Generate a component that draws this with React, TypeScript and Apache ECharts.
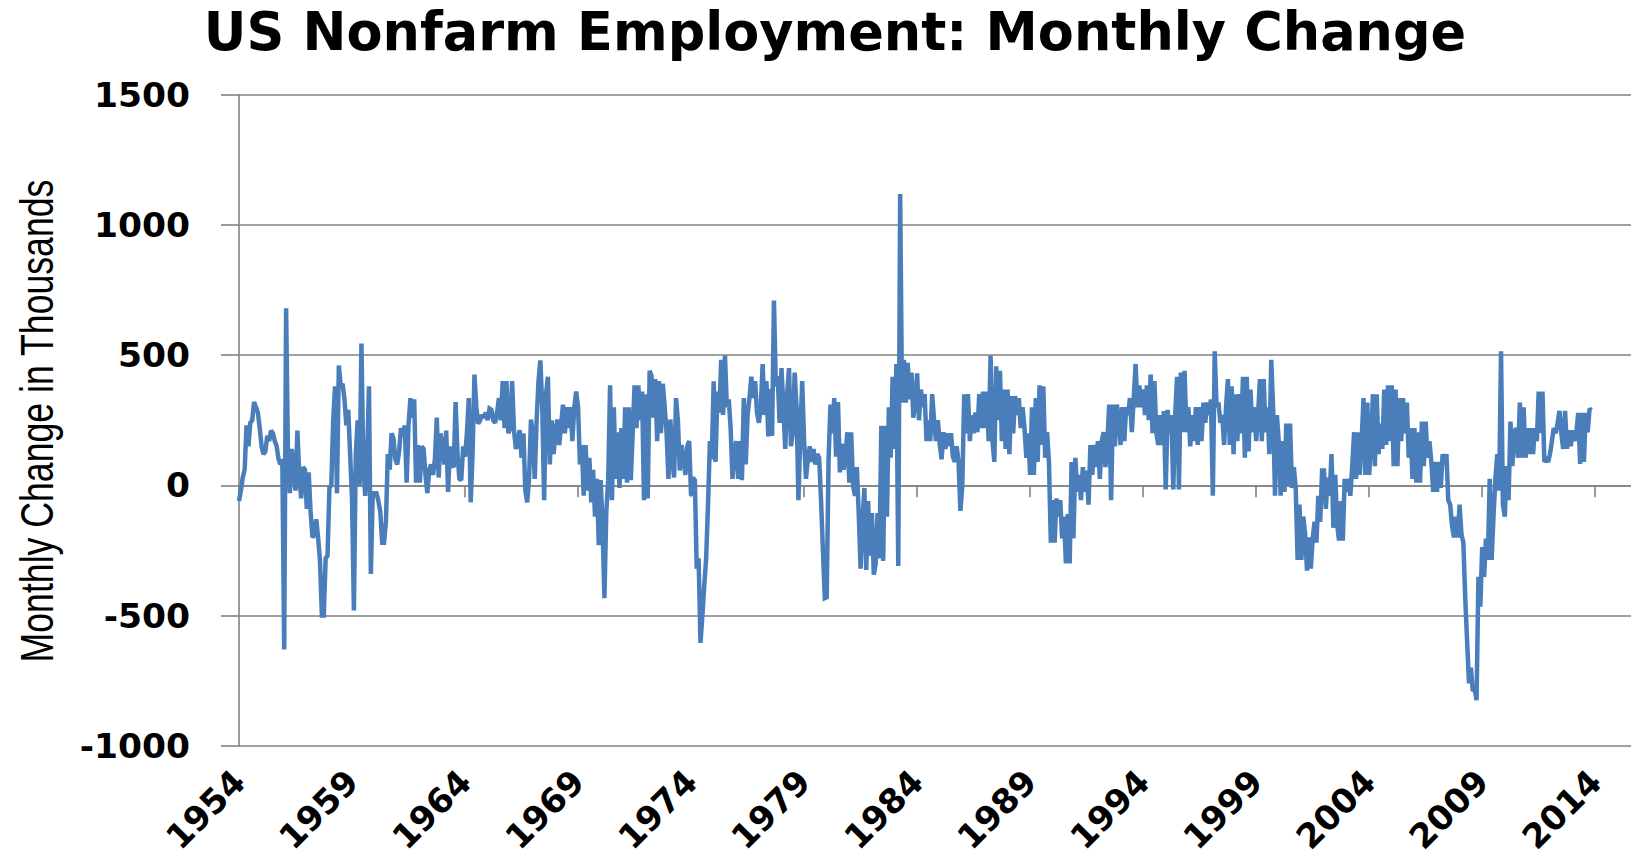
import React, { useEffect, useRef } from "react";
import * as echarts from "echarts";

// Tick labels shown every 60 months on the category axis
const tickLabels = ["1954", "1959", "1964", "1969", "1974", "1979", "1984", "1989", "1994", "1999", "2004", "2009", "2014"];

// Monthly change in nonfarm payrolls (thousands), six-year blocks
const block1954 = [-60, -20, 30, 60, 230, 150, 240, 250, 320, 300, 280, 220, 150, 120, 130, 190, 170, 210, 200, 170, 150, 100, 80, 100, -630, 680, 120, -30, 140, 60, -20, 210, 40, -50, 70, 60, -90, 50, -100, -200, -190, -130, -200, -290, -500, -500, -280, -270, -10, 0, 250, 380, -30, 460, 380, 390, 330, 230, 290, 120, -50, -480, 120, 250, 0, 545, 80, -40, 100, 380, -340, -30];
const block1960 = [-30, -30, -60, -100, -220, -220, -140, 120, 60, 200, 180, 100, 80, 130, 220, 190, 230, 10, 230, 335, 260, 330, 10, 155, 10, 150, 140, 40, -30, 60, 80, 40, 100, 260, 30, 200, 150, 80, 210, -25, 150, 80, 70, 320, 120, 25, 20, 150, 110, 200, 335, -65, 120, 425, 300, 237, 250, 270, 260, 280, 250, 295, 290, 250, 240, 280, 335, 250, 400, 220, 400, 200];
const block1966 = [220, 400, 210, 140, 170, 212, 106, 200, -20, -65, 25, 253, 200, 25, 250, 400, 480, 300, -57, 350, 417, 80, 250, 120, 200, 253, 155, 230, 310, 200, 300, 220, 300, 170, 300, 360, 300, 80, 155, -40, 155, -20, 106, -65, 60, -120, 25, -230, 20, -150, -433, -100, 20, 384, -57, 300, 25, 204, -10, 220, 25, 300, 10, 300, 20, 200, 384, 220, 384, 250, 360, -57];
const block1972 = [350, -50, 440, 420, 260, 408, 170, 400, 200, 390, 300, 200, 25, 253, 100, 30, 335, 250, 57, 155, 100, 40, 150, 170, -40, 30, 20, -320, -280, -605, -500, -384, -280, -74, 170, 100, 400, 90, 360, 280, 482, 270, 498, 300, 330, 220, 25, 130, 170, 25, 170, 20, 335, 80, 270, 335, 417, 335, 400, 280, 240, 300, 466, 270, 400, 188, 370, 190, 710, 380, 420, 240];
const block1978 = [450, 300, 140, 350, 450, 150, 200, 433, 300, -57, 200, 400, 170, 25, 100, 150, 90, 140, 80, 120, 106, -57, -250, -433, -430, 100, 310, 200, 335, 110, 320, 50, 160, 60, 120, 204, 10, 204, 0, -40, 70, -106, -320, -140, -10, -325, -60, -270, -106, -343, -300, -106, -280, 229, -290, 229, -120, 300, 106, 417, 140, 466, -310, 1119, 318, 482, 318, 470, 330, 433, 260, 318];
const block1984 = [430, 250, 368, 300, 350, 170, 250, 170, 350, 250, 170, 250, 160, 100, 204, 140, 200, 150, 200, 110, 90, 150, 90, -98, 0, 350, 200, 350, 170, 270, 200, 280, 204, 350, 220, 360, 220, 360, 170, 498, 170, 90, 457, 250, 440, 170, 368, 140, 368, 120, 343, 200, 343, 270, 335, 220, 300, 220, 106, 200, 40, 300, 40, 335, 90, 384, 155, 380, 106, 204, 90, -220];
const block1990 = [-57, -220, -50, -120, -57, -204, -120, -300, -110, -300, 90, -204, 106, -25, 40, -57, 70, -25, 57, -74, 155, 40, 155, 70, 170, 25, 170, 204, 70, 170, 310, -57, 310, 150, 310, 270, 155, 300, 170, 300, 270, 335, 204, 335, 466, 300, 384, 300, 368, 270, 384, 250, 425, 200, 400, 204, 155, 270, 155, 285, -16, 290, 200, 270, -16, 270, 417, -16, 433, 204, 440, 204];
const block1996 = [300, 150, 270, 170, 300, 155, 300, 170, 318, 240, 318, 270, 330, -40, 515, 300, 318, 240, 270, 155, 300, 408, 155, 380, 120, 350, 170, 350, 200, 417, 106, 417, 130, 368, 204, 300, 170, 270, 408, 170, 408, 204, 300, 120, 482, 300, -40, 270, 170, -40, 170, -25, 237, 0, 237, -10, 70, -10, -286, -74, -286, -120, -186, -327, -200, -320, -205, -140, -220, -40, -140, 57];
const block2002 = [57, -90, 30, -40, 120, -163, 40, -150, -212, -60, -212, 25, -25, 25, -40, 74, 204, 25, 204, 40, 170, 335, 40, 318, 40, 170, 350, 74, 350, 120, 237, 140, 368, 155, 384, 170, 384, 74, 368, 74, 335, 170, 335, 200, 318, 106, 220, 25, 220, 10, 204, 10, 245, 74, 245, 106, 170, 90, -25, 90, -25, 90, -10, 120, 80, 120, -57, -74, -155, -200, -120, -200];
const block2008 = [-74, -188, -220, -433, -600, -760, -700, -790, -780, -825, -351, -466, -237, -351, -204, -286, 25, -286, -120, 25, 120, -20, 515, -74, -120, 74, -57, 245, 74, 200, 220, 106, 318, 106, 300, 106, 220, 120, 220, 120, 220, 170, 360, 200, 360, 90, 100, 90, 120, 170, 220, 200, 237, 286, 200, 140, 286, 140, 212, 150, 212, 170, 204, 278, 82, 278, 90, 278, 204, 294, 288];

const monthlyChange: number[] = [
  ...block1954, ...block1960, ...block1966, ...block1972, ...block1978,
  ...block1984, ...block1990, ...block1996, ...block2002, ...block2008,
];

const CATEGORY_COUNT = 740;
const categories = Array.from({ length: CATEGORY_COUNT }, (_, i) => String(i));

const GRID_COLOR = "#828282";
const LINE_COLOR = "#4a7ebb";

export default function App() {
  const ref = useRef<HTMLDivElement>(null);
  useEffect(() => {
    if (!ref.current) return;
    const chart = echarts.init(ref.current, undefined, { renderer: "svg" });
    const axisLineStyle = { color: GRID_COLOR, width: 1.6 };
    chart.setOption({
      animation: false,
      backgroundColor: "#ffffff",
      title: {
        text: "US Nonfarm Employment: Monthly Change",
        left: 830,
        top: 0,
        textAlign: "center",
        textStyle: { fontFamily: "DejaVu Sans", fontWeight: "bold", fontSize: 52.5, color: "#000" },
      },
      graphic: [
        {
          type: "text",
          x: 37,
          y: 421,
          rotation: Math.PI / 2,
          scaleX: 0.775,
          style: {
            text: "Monthly Change in Thousands",
            fontFamily: "Liberation Sans",
            fontSize: 46,
            fill: "#000",
            align: "center",
            verticalAlign: "middle",
          },
        },
      ],
      grid: { left: 239, right: 0, top: 94.7, bottom: 113.2, containLabel: false },
      xAxis: [
        {
          type: "category",
          data: categories,
          boundaryGap: false,
          position: "bottom",
          axisLine: { show: true, onZero: true, lineStyle: axisLineStyle },
          axisTick: { show: true, interval: 59, length: 12, lineStyle: axisLineStyle },
          axisLabel: { show: false },
          splitLine: { show: false },
        },
        {
          type: "category",
          data: categories,
          boundaryGap: false,
          position: "bottom",
          axisLine: { show: false, onZero: false },
          axisTick: { show: false },
          splitLine: { show: false },
          axisLabel: {
            interval: 59,
            rotate: 45,
            margin: 30,
            formatter: (_v: string, i: number) => tickLabels[i / 60] ?? "",
            fontFamily: "DejaVu Sans",
            fontWeight: "bold",
            fontSize: 34,
            color: "#000",
          },
        },
      ],
      yAxis: {
        type: "value",
        min: -1000,
        max: 1500,
        interval: 500,
        axisLine: { show: true, lineStyle: axisLineStyle },
        axisTick: { show: true, length: 18, lineStyle: axisLineStyle },
        axisLabel: {
          margin: 49,
          formatter: (v: number) => String(v),
          fontFamily: "DejaVu Sans",
          fontWeight: "bold",
          fontSize: 34.5,
          color: "#000",
        },
        splitLine: { show: true, lineStyle: axisLineStyle },
      },
      series: [
        {
          type: "line",
          xAxisIndex: 0,
          data: monthlyChange,
          showSymbol: false,
          symbol: "none",
          lineStyle: { color: LINE_COLOR, width: 4.5, join: "miter", miterLimit: 2 },
          itemStyle: { color: LINE_COLOR },
          z: 3,
        },
      ],
    });
    return () => chart.dispose();
  }, []);
  return <div ref={ref} style={{ position: "fixed", left: 0, top: 0, width: 1631, height: 859 }} />;
}
